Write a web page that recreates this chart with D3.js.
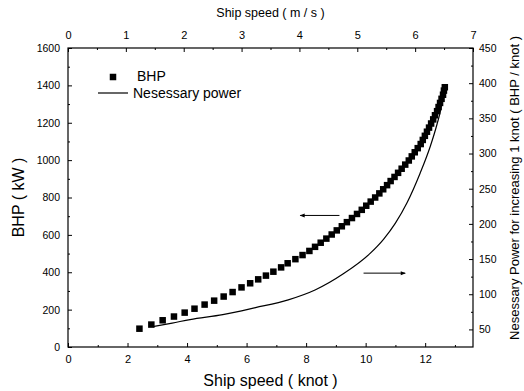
<!DOCTYPE html>
<html>
<head>
<meta charset="utf-8">
<script src="https://cdn.jsdelivr.net/npm/d3@7"></script>
<style>
  html, body { margin: 0; padding: 0; background: #fff; }
  svg { display: block; font-family: "Liberation Sans", Arial, sans-serif; }
  .frame { fill: none; stroke: #000; stroke-width: 1.2px; }
  .tick-label { font-size: 11px; fill: #000; }
</style>
</head>
<body>
<svg id="chart" width="524" height="391"></svg>
<script>
// BHP markers: ship speed (knot) vs BHP (kW)
const bhpSpeed = [
  2.40, 2.80, 3.18, 3.56, 3.92, 4.25, 4.59, 4.91, 5.23, 5.53,
  5.83, 6.12, 6.39, 6.65, 6.90, 7.16, 7.38, 7.64, 7.88, 8.11,
  8.30, 8.49, 8.68, 8.86, 9.03, 9.20, 9.37, 9.54, 9.71, 9.87,
  10.02, 10.17, 10.32, 10.46, 10.59, 10.72, 10.84, 10.97, 11.09, 11.21,
  11.33, 11.45, 11.55, 11.65, 11.75, 11.85, 11.92, 11.99, 12.06, 12.13,
  12.20, 12.27, 12.33, 12.40, 12.45, 12.50, 12.55, 12.60, 12.63, 12.66
];
const bhpPower = [
  98, 120, 143, 163, 184, 205, 227, 248, 270, 294,
  319, 341, 362, 382, 403, 426, 448, 470, 492, 514,
  536, 558, 580, 602, 624, 646, 668, 690, 712, 734,
  756, 778, 800, 822, 844, 866, 888, 910, 932, 954,
  976, 998, 1020, 1042, 1064, 1086, 1108, 1130, 1152, 1174,
  1196, 1218, 1240, 1262, 1284, 1306, 1328, 1350, 1372, 1390
];

// Necessary power for increasing 1 knot (right axis)
const needSpeed = [2.85, 3.5, 4.1, 5.2, 6.3, 7.4, 8.3, 9.25, 10.15, 10.6, 11.0, 11.39, 11.83, 12.17, 12.40, 12.53, 12.62];
const needPower = [54, 59, 64, 71, 81, 92, 106, 129, 158, 178, 201, 230, 272, 310, 342, 364, 390];

// axis ticks
const leftTicks = [0, 200, 400, 600, 800, 1000, 1200, 1400, 1600];
const rightTicks = [50, 100, 150, 200, 250, 300, 350, 400, 450];
const bottomTicks = [0, 2, 4, 6, 8, 10, 12];
const topTicks = [0, 1, 2, 3, 4, 5, 6, 7];

const KNOT_PER_MS = 3600 / 1852;
const plain = d => String(d);

const svg = d3.select("#chart");
const m = { left: 68, right: 473, top: 48, bottom: 347 };

const xTop = d3.scaleLinear().domain([0, 7]).range([m.left, m.right]);
const x = d3.scaleLinear().domain([0, 7 * KNOT_PER_MS]).range([m.left, m.right]);
const yL = d3.scaleLinear().domain([0, 1600]).range([m.bottom, m.top]);
const yR = d3.scaleLinear().domain([25, 450]).range([m.bottom, m.top]);

// Axes (ticks point inward)
function styleAxis(g) {
  g.select(".domain").remove();
  g.selectAll("line").attr("stroke", "#000").attr("stroke-width", 1);
  g.selectAll("text").attr("class", "tick-label").attr("font-family", null).attr("font-size", null);
}

function minor(g, axis) {
  g.call(axis.tickFormat("").tickSizeInner(-2).tickSizeOuter(0));
  g.select(".domain").remove();
  g.selectAll("line").attr("stroke", "#000");
}

// bottom
svg.append("g").attr("transform", `translate(0,${m.bottom})`)
  .call(d3.axisBottom(x).tickValues(bottomTicks).tickFormat(plain).tickSizeInner(-4).tickSizeOuter(0).tickPadding(8))
  .call(styleAxis);
svg.append("g").attr("transform", `translate(0,${m.bottom})`)
  .call(minor, d3.axisBottom(x).tickValues(d3.range(1, 14, 2)));

// top
svg.append("g").attr("transform", `translate(0,${m.top})`)
  .call(d3.axisTop(xTop).tickValues(topTicks).tickFormat(plain).tickSizeInner(-4).tickSizeOuter(0).tickPadding(9))
  .call(styleAxis);
svg.append("g").attr("transform", `translate(0,${m.top})`)
  .call(minor, d3.axisTop(xTop).tickValues(d3.range(0.5, 7, 1)));

// left
svg.append("g").attr("transform", `translate(${m.left},0)`)
  .call(d3.axisLeft(yL).tickValues(leftTicks).tickFormat(plain).tickSizeInner(-4).tickSizeOuter(0).tickPadding(8))
  .call(styleAxis)
  .selectAll("text").style("font-size", "10.5px");
svg.append("g").attr("transform", `translate(${m.left},0)`)
  .call(minor, d3.axisLeft(yL).tickValues(d3.range(100, 1600, 200)));

// right
svg.append("g").attr("transform", `translate(${m.right},0)`)
  .call(d3.axisRight(yR).tickValues(rightTicks).tickFormat(plain).tickSizeInner(-4).tickSizeOuter(0).tickPadding(6))
  .call(styleAxis)
  .selectAll("text").style("font-size", "10.5px");
svg.append("g").attr("transform", `translate(${m.right},0)`)
  .call(minor, d3.axisRight(yR).tickValues(d3.range(75, 450, 50)));

// frame
svg.append("rect").attr("class", "frame")
  .attr("x", m.left).attr("y", m.top)
  .attr("width", m.right - m.left).attr("height", m.bottom - m.top);

// Axis titles
svg.append("text").attr("x", (m.left + m.right) / 2).attr("y", 17)
  .attr("text-anchor", "middle").style("font-size", "12.5px").text("Ship speed ( m / s )");
svg.append("text").attr("x", (m.left + m.right) / 2).attr("y", 386)
  .attr("text-anchor", "middle").style("font-size", "16px").text("Ship speed ( knot )");
svg.append("text").attr("transform", `translate(24,${(m.top + m.bottom) / 2}) rotate(-90)`)
  .attr("text-anchor", "middle").style("font-size", "16px").text("BHP ( kW )");
svg.append("text").attr("transform", `translate(519,188) rotate(-90)`)
  .attr("text-anchor", "middle").style("font-size", "13px")
  .text("Nesessary Power for increasing 1 knot ( BHP / knot )");

// Necessary power line
const line = d3.line()
  .x((d, i) => x(needSpeed[i]))
  .y(d => yR(d))
  .curve(d3.curveMonotoneX);
svg.append("path").datum(needPower)
  .attr("d", line)
  .attr("fill", "none").attr("stroke", "#000").attr("stroke-width", 1.2);

// BHP markers
const ms = 6.5;
svg.append("g").selectAll("rect")
  .data(bhpPower)
  .enter().append("rect")
  .attr("x", (d, i) => x(bhpSpeed[i]) - ms / 2)
  .attr("y", d => yL(d) - ms / 2)
  .attr("width", ms).attr("height", ms)
  .attr("fill", "#000");

// Arrows pointing to each curve's axis
svg.append("defs").append("marker")
  .attr("id", "arrow")
  .attr("viewBox", "0 -5 10 10")
  .attr("refX", 9).attr("refY", 0)
  .attr("markerWidth", 6).attr("markerHeight", 5)
  .attr("orient", "auto")
  .append("path").attr("d", "M0,-4L10,0L0,4").attr("fill", "#000");

svg.append("line")
  .attr("x1", x(9.12)).attr("x2", x(7.80))
  .attr("y1", yL(704)).attr("y2", yL(704))
  .attr("stroke", "#000").attr("stroke-width", 1)
  .attr("marker-end", "url(#arrow)");
svg.append("line")
  .attr("x1", x(9.93)).attr("x2", x(11.33))
  .attr("y1", yR(130)).attr("y2", yR(130))
  .attr("stroke", "#000").attr("stroke-width", 1)
  .attr("marker-end", "url(#arrow)");

// Legend
const lg = svg.append("g").style("font-size", "14px");
lg.append("rect").attr("x", 113 - 3.25).attr("y", 77 - 3.25).attr("width", ms).attr("height", ms);
lg.append("text").attr("x", 137).attr("y", 81).text("BHP");
lg.append("line").attr("x1", 98).attr("x2", 128).attr("y1", 93).attr("y2", 93)
  .attr("stroke", "#000").attr("stroke-width", 1.2);
lg.append("text").attr("x", 133).attr("y", 98).text("Nesessary power");
</script>
</body>
</html>
